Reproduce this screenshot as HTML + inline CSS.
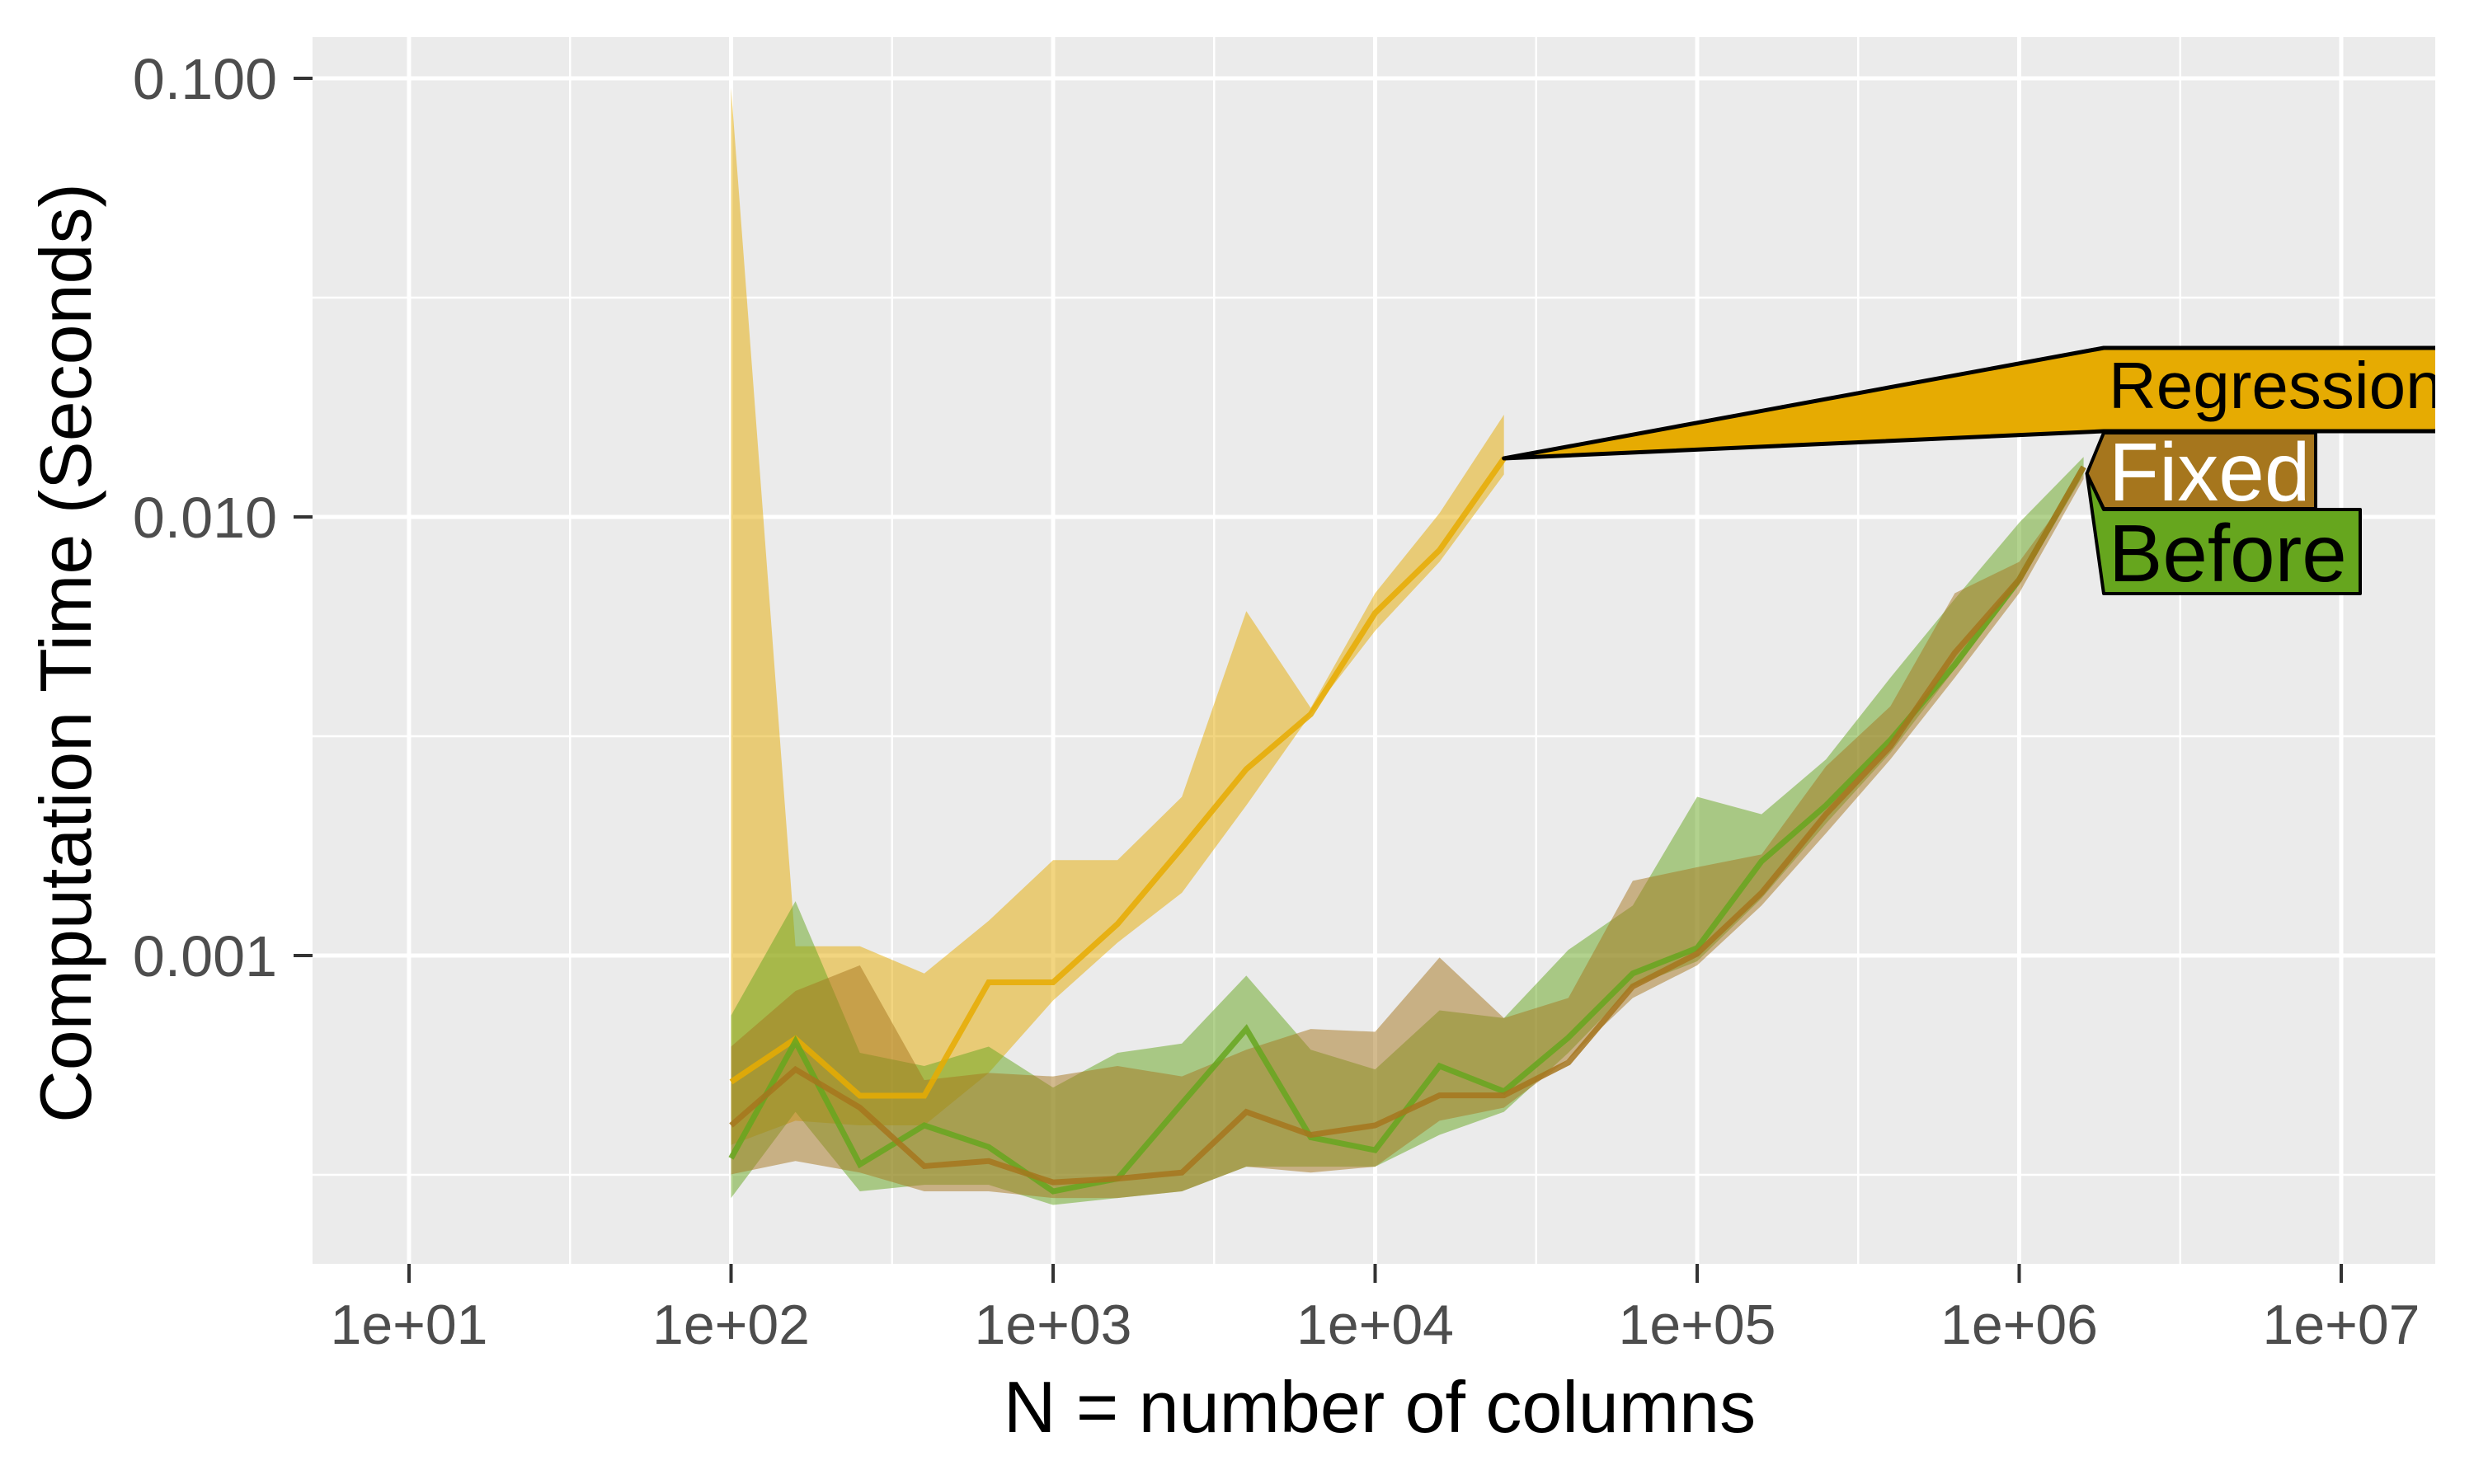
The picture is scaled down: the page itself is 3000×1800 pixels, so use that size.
<!DOCTYPE html>
<html><head><meta charset="utf-8"><style>
html,body{margin:0;padding:0;background:#fff}
svg{display:block;font-family:"Liberation Sans",sans-serif}
</style></head><body>
<svg id="chart" width="3000" height="1800" viewBox="0 0 3000 1800" xmlns="http://www.w3.org/2000/svg"></svg>
<script>
const regExp = [2,2.2,2.4,2.6,2.8,3,3.2,3.4,3.6,3.8,4,4.2,4.4];
const regMid = [0.000515,0.000646,0.000479,0.000479,0.000869,0.000869,0.00118,0.00176,0.00266,0.00355,0.00604,0.0084,0.0136];
const regHi  = [0.095,0.00105,0.00105,0.00091,0.0012,0.00165,0.00165,0.0023,0.0061,0.00367,0.0067,0.0102,0.0171];
const regLo  = [0.00037,0.00042,0.00041,0.00041,0.00054,0.00079,0.00107,0.00139,0.0022,0.00355,0.0055,0.0079,0.0125];
const bfExp = [2,2.2,2.4,2.6,2.8,3,3.2,3.4,3.6,3.8,4,4.2,4.4,4.6,4.8,5,5.2,5.4,5.6,5.8,6,6.2];
const befMid = [0.000345,0.000637,0.000334,0.00041,0.000366,0.00029,0.00031,0.00046,0.00068,0.000385,0.00036,0.00056,0.00049,0.00065,0.00091,0.00104,0.00164,0.0022,0.0031,0.0046,0.0072,0.013];
const befHi  = [0.00073,0.00133,0.0006,0.00056,0.00062,0.0005,0.0006,0.00063,0.0009,0.00061,0.00055,0.00075,0.00072,0.00103,0.0013,0.0023,0.0021,0.0028,0.0043,0.0065,0.0097,0.0137];
const befLo  = [0.00028,0.00044,0.00029,0.0003,0.0003,0.00027,0.00028,0.00029,0.00033,0.00033,0.00033,0.00039,0.00044,0.0006,0.00085,0.00097,0.00135,0.002,0.0029,0.0045,0.007,0.0125];
const fixMid = [0.00041,0.00055,0.00045,0.000331,0.00034,0.000304,0.00031,0.00032,0.00044,0.00039,0.00041,0.00048,0.00048,0.00057,0.00085,0.00101,0.00139,0.0021,0.003,0.0049,0.0072,0.013];
const fixHi  = [0.00062,0.00083,0.00095,0.00052,0.00054,0.00053,0.00056,0.00053,0.00061,0.00068,0.00067,0.00099,0.00072,0.0008,0.00148,0.00159,0.0017,0.0027,0.0037,0.0067,0.0079,0.0125];
const fixLo  = [0.000317,0.00034,0.00032,0.00029,0.00029,0.00028,0.00028,0.00029,0.00033,0.00032,0.00033,0.00042,0.00045,0.00058,0.0008,0.00095,0.0013,0.0019,0.0028,0.0043,0.0067,0.0122];
const xTickExp = [1,2,3,4,5,6,7];
const xTickLabels = ["1e+01","1e+02","1e+03","1e+04","1e+05","1e+06","1e+07"];
const yTickVals = [0.1,0.01,0.001];
const yTickLabels = ["0.100","0.010","0.001"];

const NS="http://www.w3.org/2000/svg";
const svg=document.getElementById('chart');
const PL=379,PR=2953,PT=45,PB=1533;
const xS=e=>496+(e-1)*390.5;
const yS=v=>627-(Math.log10(v)+2)*532;
function mk(tag,attrs,parent){const el=document.createElementNS(NS,tag);for(const k in attrs)el.setAttribute(k,attrs[k]);(parent||svg).appendChild(el);return el;}

const bg=mk('rect',{x:PL,y:PT,width:PR-PL,height:PB-PT,fill:'#EBEBEB'});


const defs=mk('defs',{});
const cp=mk('clipPath',{id:'clip'},defs);
mk('rect',{x:PL,y:PT,width:PR-PL,height:PB-PT},cp);

const grid=mk('g',{});


for(let e=0.5;e<=7.5;e+=0.5){const x=xS(e);if(x<PL||x>PR)continue;const major=Number.isInteger(e);
 mk('line',{x1:x,x2:x,y1:PT,y2:PB,stroke:'#fff','stroke-width':major?5:2.5},grid);}
for(let le=-0.5;le>=-4;le-=0.5){const y=yS(Math.pow(10,le));if(y<PT||y>PB)continue;const major=Number.isInteger(le);
 mk('line',{x1:PL,x2:PR,y1:y,y2:y,stroke:'#fff','stroke-width':major?5:2.5},grid);}

const plot=mk('g',{'clip-path':'url(#clip)'});
function ribbon(ex,hi,lo,color,name){
 let pts=ex.map((e,i)=>xS(e)+','+yS(hi[i]));
 for(let i=ex.length-1;i>=0;i--)pts.push(xS(ex[i])+','+yS(lo[i]));
 const p=mk('polygon',{points:pts.join(' '),fill:color,'fill-opacity':0.5},plot);
 
 
}
function line(ex,v,color,name){
 const p=mk('polyline',{points:ex.map((e,i)=>xS(e)+','+yS(v[i])).join(' '),fill:'none',stroke:color,'stroke-width':7,'stroke-opacity':0.85},plot);
 
 
}
const cR='#E6AB02',cF='#A6761D',cB='#66A61E';
ribbon(regExp,regHi,regLo,cR,'regression-ribbon');
ribbon(bfExp,befHi,befLo,cB,'before-ribbon');
ribbon(bfExp,fixHi,fixLo,cF,'fixed-ribbon');
line(regExp,regMid,cR,'regression-line');
line(bfExp,befMid,cB,'before-line');
line(bfExp,fixMid,cF,'fixed-line');

const lab=mk('g',{'clip-path':'url(#clip)'});
const rTip=[xS(regExp[regExp.length-1]),yS(regMid[regMid.length-1])];
const bTip=[xS(bfExp[bfExp.length-1])+4,yS(befMid[befMid.length-1])+8];
let p;
p=mk('polygon',{points:`${bTip[0]},${bTip[1]} 2551,618 2862,618 2862,720 2551,720`,fill:cB,stroke:'#000','stroke-width':4,'stroke-linejoin':'round'},lab);


p=mk('polygon',{points:`${bTip[0]},${bTip[1]} 2551,525 2808,525 2808,617 2551,617`,fill:cF,stroke:'#000','stroke-width':4,'stroke-linejoin':'round'},lab);


p=mk('polygon',{points:`${rTip[0]},${rTip[1]} 2551,422 2975,422 2975,523 2551,523`,fill:cR,stroke:'#000','stroke-width':5,'stroke-linejoin':'round'},lab);


let t;
t=mk('text',{x:2557,y:495,'font-size':80,fill:'#000'},lab);t.textContent='Regression';


t=mk('text',{x:2557,y:607,'font-size':100,fill:'#fff'},lab);t.textContent='Fixed';


t=mk('text',{x:2557,y:705,'font-size':98,fill:'#000'},lab);t.textContent='Before';



const xa=mk('g',{});


xTickExp.forEach((e,i)=>{const x=xS(e);
 mk('line',{x1:x,x2:x,y1:PB,y2:PB+23,stroke:'#333','stroke-width':4},xa);
 const tx=mk('text',{x:x,y:1630,'font-size':68,fill:'#4D4D4D','text-anchor':'middle'},xa);
 tx.textContent=xTickLabels[i];
 
 
});
const ya=mk('g',{});


yTickVals.forEach((v,i)=>{const y=yS(v);
 mk('line',{x1:PL-23,x2:PL,y1:y,y2:y,stroke:'#333','stroke-width':4},ya);
 const tx=mk('text',{x:336,y:y+25,'font-size':70,fill:'#4D4D4D','text-anchor':'end'},ya);
 tx.textContent=yTickLabels[i];
 
 
});
t=mk('text',{x:1673,y:1737,'font-size':88,fill:'#000','text-anchor':'middle'});
t.textContent='N = number of columns';


t=mk('text',{x:0,y:0,'font-size':88,fill:'#000','text-anchor':'middle',transform:'translate(110,792) rotate(-90)'});
t.textContent='Computation Time (Seconds)';


</script>
</body></html>
